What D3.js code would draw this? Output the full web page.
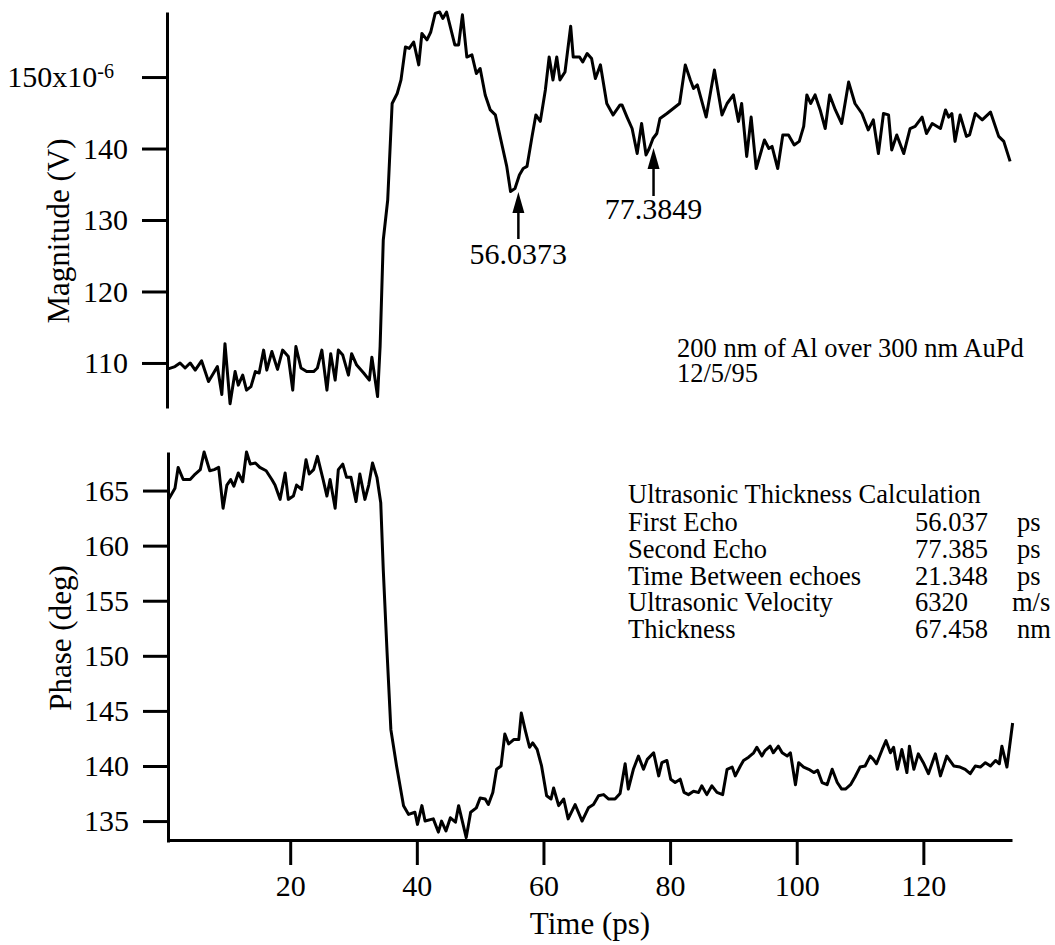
<!DOCTYPE html>
<html>
<head>
<meta charset="utf-8">
<script src="https://cdn.jsdelivr.net/npm/d3@7"></script>
<style>
  html, body { margin: 0; padding: 0; background: #fff; }
  svg { display: block; font-family: "Liberation Serif", "Times New Roman", serif; }
</style>
</head>
<body>
<svg id="chart" width="1055" height="945"></svg>
<script>
// Magnitude trace (V, x1e-6) vs time (ps)
const magTime = [0.5,1.8,2.6,3.4,4.2,5.0,6.0,7.1,7.9,8.5,9.2,9.7,10.5,11.3,11.8,12.5,13.1,13.8,14.5,15.1,15.8,16.3,17.1,18.0,18.8,19.7,20.4,20.9,21.7,22.6,23.7,24.3,25.0,25.8,26.4,27.1,27.6,28.3,29.2,29.7,30.5,31.6,32.5,32.9,33.8,34.2,34.7,35.4,36.1,36.9,37.5,38.2,38.8,39.5,40.3,40.8,41.6,42.2,42.9,43.6,44.1,44.7,46.0,46.6,47.2,47.9,48.7,49.4,50.0,50.8,51.6,52.4,53.4,54.2,54.8,55.5,56.2,56.8,57.4,58.2,58.8,59.5,60.3,60.9,61.5,62.1,62.6,63.4,64.3,64.7,65.7,66.2,66.9,67.6,68.2,69.0,70.0,71.0,72.1,72.4,73.2,74.0,74.8,75.5,76.2,76.7,77.3,77.9,78.4,79.5,80.5,81.5,82.4,83.2,83.7,84.3,85.7,87.0,88.2,89.0,90.0,90.8,91.3,92.1,92.8,93.6,94.9,95.6,96.1,97.0,97.8,98.7,99.6,100.4,101.1,101.6,102.2,102.9,103.7,104.5,105.2,106.1,107.1,108.2,109.2,110.3,111.3,112.1,112.9,113.7,114.5,115.0,115.8,116.9,117.9,118.7,119.8,120.5,121.4,122.7,123.5,124.0,124.5,125.0,125.8,126.8,127.3,128.2,129.3,130.6,131.9,132.7,133.7];
const magValue = [109.1,109.5,110.0,109.3,110.0,109.0,110.3,107.4,108.6,109.5,105.6,112.7,104.3,108.8,106.9,108.3,106.2,106.7,108.8,108.6,111.8,109.0,111.6,109.1,111.8,110.9,106.2,112.3,109.3,108.8,108.8,109.3,111.8,106.2,111.3,107.6,111.8,111.1,108.3,111.3,109.7,108.6,107.6,110.8,105.3,112.3,127.2,132.8,146.3,147.7,149.6,154.2,154.0,154.9,151.7,156.1,155.2,156.3,158.9,159.1,158.2,159.1,154.5,154.5,158.7,152.8,153.1,150.5,151.2,147.5,145.4,144.7,140.7,137.5,134.0,134.4,136.3,137.2,137.5,141.7,144.7,143.8,148.2,152.8,149.6,152.8,149.6,150.7,157.1,152.8,152.8,152.1,153.3,152.6,149.8,151.7,146.3,144.7,146.1,146.1,144.4,142.8,139.3,143.5,139.1,140.0,141.4,142.1,144.2,144.9,145.6,146.3,151.7,149.6,148.4,148.9,144.4,151.0,144.7,146.3,147.5,143.8,146.3,138.9,144.4,137.2,141.2,140.0,140.3,137.2,141.9,141.9,140.5,141.0,143.1,147.5,146.3,147.5,145.4,142.8,147.5,145.4,143.5,149.3,146.3,144.9,142.6,144.0,139.3,144.9,144.7,139.8,141.9,139.3,142.8,143.1,144.4,142.1,143.5,142.8,145.4,144.4,144.9,141.0,144.7,141.7,141.9,144.9,144.0,145.1,141.7,141.0,138.2];

// Phase trace (deg) vs time (ps)
const phaseTime = [0.8,1.8,2.3,3.1,4.2,5.0,5.8,6.4,7.3,8.0,8.7,9.4,10.0,10.6,11.1,11.8,12.5,13.1,13.7,14.5,15.2,16.2,17.1,17.6,18.4,19.2,19.7,20.5,21.0,21.8,22.5,23.0,23.7,24.3,25.2,25.8,26.3,27.1,27.6,28.3,28.9,29.6,30.4,31.0,31.8,32.4,33.0,33.7,34.3,34.7,35.3,35.9,36.8,37.9,38.7,39.7,40.1,40.8,41.3,42.6,43.4,43.9,44.6,45.3,46.1,46.6,47.8,48.5,49.4,50.0,50.8,51.3,52.0,52.6,53.3,53.9,54.5,55.3,56.1,56.5,57.1,57.8,58.3,59.0,59.7,60.5,61.2,61.6,62.4,63.2,63.9,65.0,66.1,67.1,67.9,68.7,69.5,70.3,71.3,72.1,72.9,73.4,74.2,75.0,75.8,76.4,77.4,78.2,78.7,79.5,80.1,80.8,81.6,82.2,82.9,83.7,84.5,85.0,85.8,86.6,87.4,88.3,89.0,89.8,90.3,91.1,91.6,92.4,93.2,93.7,94.5,95.0,95.8,96.3,97.1,97.7,98.5,99.0,99.8,100.3,101.1,101.9,102.7,103.3,104.0,104.8,105.6,106.4,107.1,107.7,108.5,109.2,110.0,110.8,111.6,112.1,112.6,113.5,114.1,114.8,115.3,115.9,116.6,117.4,117.8,118.5,119.2,120.0,120.8,121.9,122.7,123.7,124.8,125.8,126.6,127.4,128.2,129.0,129.8,130.6,131.4,132.0,132.4,133.2,134.1];
const phaseValue = [164.2,165.2,167.1,166.0,166.0,166.5,166.9,168.5,166.8,166.9,167.1,163.4,165.5,166.0,165.4,166.6,165.8,168.5,167.4,167.5,167.1,166.8,166.0,165.5,164.2,166.6,164.2,164.5,165.5,165.1,167.8,166.5,166.9,168.1,166.0,164.5,166.0,163.4,166.9,167.4,166.2,166.2,164.0,166.5,164.2,165.5,167.5,166.2,163.9,157.8,150.3,143.3,140.0,136.4,135.6,135.8,134.7,136.4,135.0,135.2,134.0,135.0,134.1,135.3,134.9,136.4,133.5,135.8,136.2,137.1,137.0,136.5,137.6,139.7,140.0,142.9,142.0,142.4,142.4,144.8,143.3,141.7,142.1,141.5,140.0,137.3,137.0,138.0,136.4,137.0,135.2,136.5,135.0,136.2,136.5,137.3,137.4,137.0,137.0,137.5,140.2,137.9,139.7,140.9,139.7,140.6,141.2,139.1,140.3,140.5,138.8,138.5,138.8,137.6,137.4,137.7,137.6,138.2,137.4,138.2,137.6,137.4,139.7,139.9,139.1,140.0,140.5,140.8,141.2,141.7,140.9,141.4,141.8,141.2,141.8,141.2,140.9,141.2,138.3,140.3,139.9,139.7,139.4,139.6,138.5,138.3,139.7,138.5,137.9,137.9,138.3,139.0,139.9,140.0,140.9,140.6,140.2,141.5,142.3,141.2,141.7,139.7,141.5,139.4,141.8,139.7,141.1,140.3,139.3,141.1,139.1,140.9,140.0,139.9,139.7,139.3,140.0,139.9,140.3,140.0,140.5,140.2,141.8,139.9,143.9];

// Axis ticks
const timeTicks = [20, 40, 60, 80, 100, 120];
const magTicks = [110, 120, 130, 140, 150];
const phaseTicks = [135, 140, 145, 150, 155, 160, 165];

// Marked echoes
const echoTimes = [56.0373, 77.3849];
const echoLabels = ["56.0373", "77.3849"];

// Notes and summary table
const sampleNote = ["200 nm of Al over 300 nm AuPd", "12/5/95"];
const tableTitle = "Ultrasonic Thickness Calculation";
const tableNames = ["First Echo", "Second Echo", "Time Between echoes", "Ultrasonic Velocity", "Thickness"];
const tableValues = ["56.037", "77.385", "21.348", "6320", "67.458"];
const tableUnits = ["ps", "ps", "ps", "m/s", "nm"];

const svg = d3.select("#chart");
const ink = "#000";

const x = d3.scaleLinear().domain([0.7, 134]).range([168, 1012]);
const yMag = d3.scaleLinear().domain([103.7, 159.1]).range([408, 12]);
const yPhase = d3.scaleLinear().domain([133.1, 168.5]).range([842, 452]);

function styleAxis(g, size) {
  g.selectAll("path.domain").attr("stroke", ink).attr("stroke-width", 3);
  g.selectAll(".tick line").attr("stroke", ink).attr("stroke-width", 3);
  g.selectAll(".tick text")
    .attr("fill", ink)
    .style("font-family", '"Liberation Serif", "Times New Roman", serif')
    .style("font-size", size + "px");
}

// Magnitude axis
const gMag = svg.append("g")
  .attr("transform", "translate(167,0)")
  .call(d3.axisLeft(yMag).tickValues(magTicks).tickSize(25).tickSizeOuter(0).tickPadding(14)
    .tickFormat(d => d === 150 ? "" : d));
styleAxis(gMag, 30);
gMag.selectAll(".tick").filter(d => d === 150).select("text")
  .attr("x", -53)
  .call(t => {
    t.append("tspan").text("150x10");
    t.append("tspan").attr("dy", "-0.45em").style("font-size", "20px").text("-6");
  });

// Phase axis
const gPhase = svg.append("g")
  .attr("transform", "translate(168,0)")
  .call(d3.axisLeft(yPhase).tickValues(phaseTicks).tickSize(25).tickSizeOuter(0).tickPadding(14));
styleAxis(gPhase, 30);

// Time axis
const gTime = svg.append("g")
  .attr("transform", "translate(0,840)")
  .call(d3.axisBottom(x).tickValues(timeTicks).tickSize(25).tickSizeOuter(0).tickPadding(10));
styleAxis(gTime, 30);

// Axis titles
const titleFont = 31;
svg.append("text")
  .attr("transform", "translate(58,231) rotate(-90)")
  .attr("text-anchor", "middle").attr("dominant-baseline", "central")
  .style("font-size", titleFont + "px").attr("fill", ink)
  .text("Magnitude (V)");
svg.append("text")
  .attr("transform", "translate(60,638) rotate(-90)")
  .attr("text-anchor", "middle").attr("dominant-baseline", "central")
  .style("font-size", titleFont + "px").attr("fill", ink)
  .text("Phase (deg)");
svg.append("text")
  .attr("x", 590).attr("y", 934)
  .attr("text-anchor", "middle")
  .style("font-size", titleFont + "px").attr("fill", ink)
  .text("Time (ps)");

// Traces
const magLine = d3.line().x((d, i) => x(magTime[i])).y(d => yMag(d));
const phaseLine = d3.line().x((d, i) => x(phaseTime[i])).y(d => yPhase(d));

svg.append("path").datum(magValue)
  .attr("d", magLine)
  .attr("fill", "none").attr("stroke", ink).attr("stroke-width", 3)
  .attr("stroke-linejoin", "round");
svg.append("path").datum(phaseValue)
  .attr("d", phaseLine)
  .attr("fill", "none").attr("stroke", ink).attr("stroke-width", 3)
  .attr("stroke-linejoin", "round");

// Echo arrows and labels
const arrowGeom = [
  { tip: 192, shaftEnd: 239, base: 264 },
  { tip: 148, shaftEnd: 196, base: 219 }
];
echoTimes.forEach((t, i) => {
  const ax = x(t), g = arrowGeom[i];
  svg.append("line")
    .attr("x1", ax).attr("x2", ax)
    .attr("y1", g.tip + 14).attr("y2", g.shaftEnd)
    .attr("stroke", ink).attr("stroke-width", 2.5);
  svg.append("path")
    .attr("d", `M${ax},${g.tip} L${ax - 6},${g.tip + 21} L${ax + 6},${g.tip + 21} Z`)
    .attr("fill", ink);
  svg.append("text")
    .attr("x", ax).attr("y", g.base)
    .attr("text-anchor", "middle")
    .style("font-size", "30px").attr("fill", ink)
    .text(echoLabels[i]);
});

// Sample note
svg.append("g").selectAll("text").data(sampleNote).join("text")
  .attr("x", 677).attr("y", (d, i) => 357 + i * 25)
  .style("font-size", "26.5px").attr("fill", ink)
  .text(d => d);

// Thickness table
svg.append("text")
  .attr("x", 628).attr("y", 503)
  .style("font-size", "26.5px").attr("fill", ink)
  .text(tableTitle);
const rowY = i => 531 + i * 26.8;
const table = svg.append("g").style("font-size", "26.5px").attr("fill", ink);
table.selectAll("text.name").data(tableNames).join("text").attr("class", "name")
  .attr("x", 628).attr("y", (d, i) => rowY(i)).text(d => d);
table.selectAll("text.val").data(tableValues).join("text").attr("class", "val")
  .attr("x", 915).attr("y", (d, i) => rowY(i)).text(d => d);
table.selectAll("text.unit").data(tableUnits).join("text").attr("class", "unit")
  .attr("x", d => d === "m/s" ? 1012 : 1017).attr("y", (d, i) => rowY(i)).text(d => d);
</script>
</body>
</html>
